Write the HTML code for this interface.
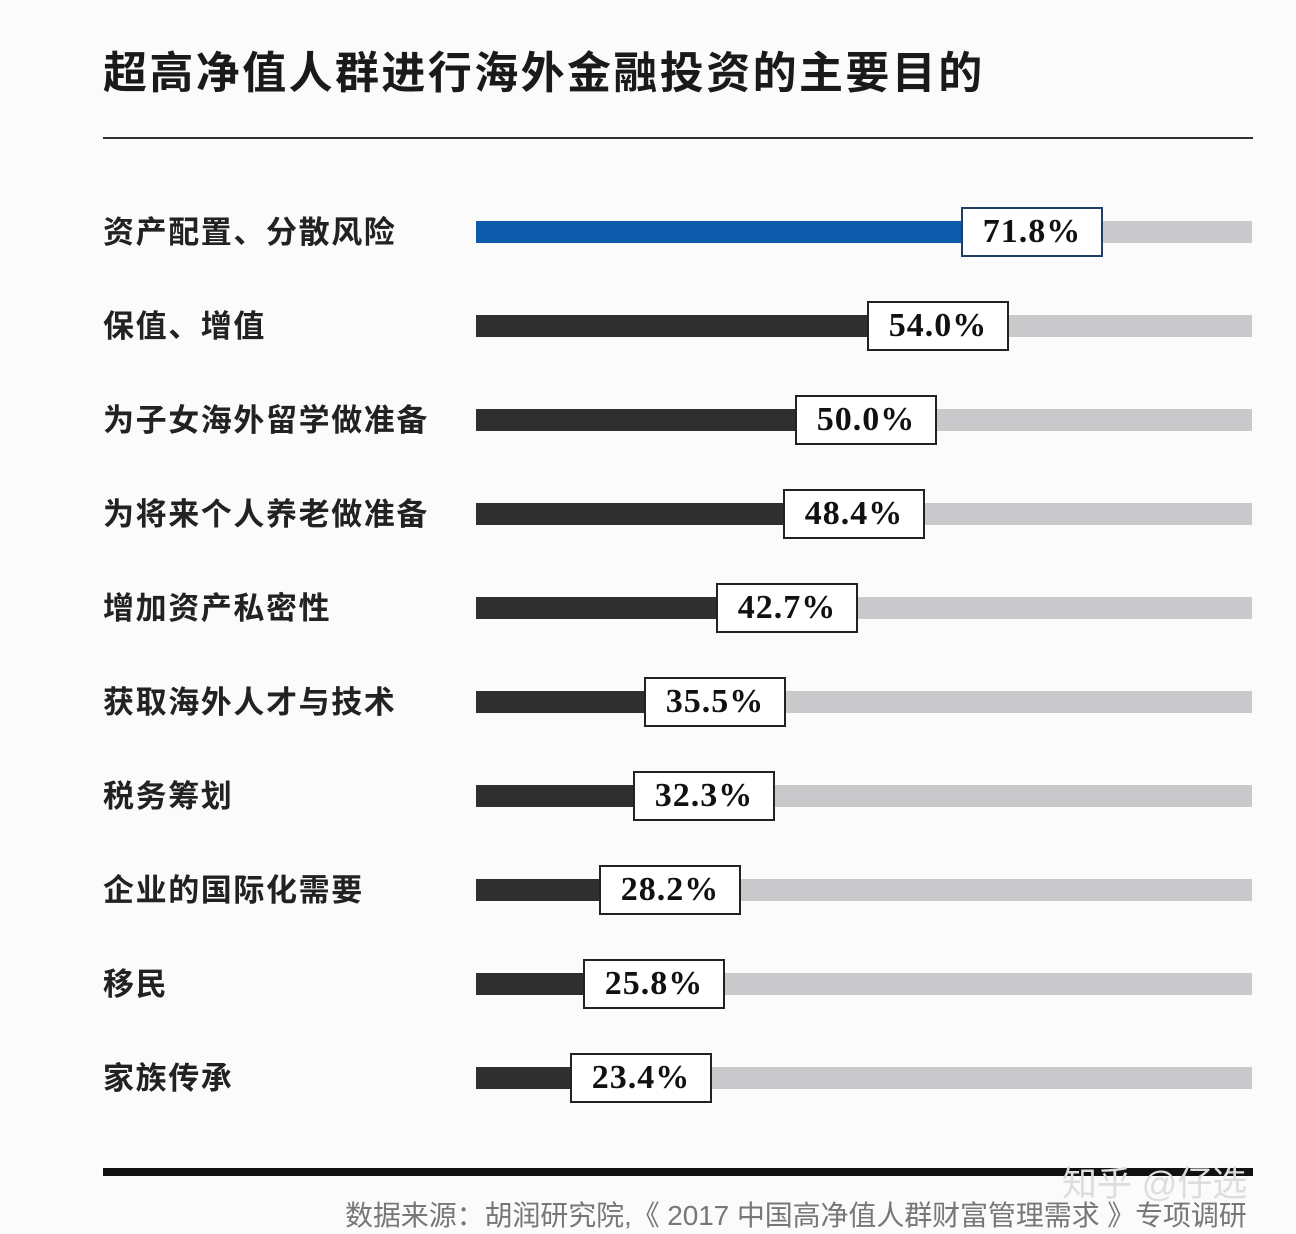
<!DOCTYPE html>
<html><head><meta charset="utf-8"><style>
body{margin:0;width:1296px;height:1232px;background:#fbfbfb;position:relative;overflow:hidden;font-family:"Liberation Sans","Noto Sans CJK SC",sans-serif}
.a{position:absolute}
.t{left:103px;top:46px;font-size:44px;font-weight:bold;color:#1a1a1a;letter-spacing:2.4px;white-space:nowrap;line-height:56px}
.lab{left:103px;font-size:31px;font-weight:bold;color:#222;white-space:nowrap;line-height:40px;letter-spacing:1.6px}
.trk{left:476px;width:776px;height:22px;background:#c9c9cb}
.fill{left:476px;height:22px;background:#2f2f2f}
.box{height:46px;width:138px;border:2.5px solid #222;background:#fff;font-family:"Liberation Serif",serif;font-weight:bold;font-size:34px;color:#111;text-align:center;line-height:46px;letter-spacing:1px}
</style></head><body>
<div class="a t">超高净值人群进行海外金融投资的主要目的</div>
<div class="a" style="left:103px;top:137px;width:1150px;height:2px;background:#333"></div>
<div id="rows"></div>
<div class="a" style="left:103px;top:1168px;width:1150px;height:8px;background:#111"></div>
<div class="a" style="left:345px;top:1194px;font-size:28px;color:#777;white-space:nowrap;letter-spacing:-0.1px">数据来源：胡润研究院,《 2017 中国高净值人群财富管理需求 》专项调研</div>
<div class="a" style="left:1062px;top:1156px;font-size:35px;color:#ddd;white-space:nowrap">知乎 @仔选</div>
<script>
var d=[["资产配置、分散风险","71.8%",961],["保值、增值","54.0%",867],["为子女海外留学做准备","50.0%",795],["为将来个人养老做准备","48.4%",783],["增加资产私密性","42.7%",716],["获取海外人才与技术","35.5%",644],["税务筹划","32.3%",633],["企业的国际化需要","28.2%",599],["移民","25.8%",583],["家族传承","23.4%",570]];
var h="";
d.forEach(function(r,i){var c=232+94*i;var blue=i==0;
h+='<div class="a lab" style="top:'+(c-19)+'px">'+r[0]+'</div>';
h+='<div class="a trk" style="top:'+(c-11)+'px"></div>';
h+='<div class="a fill" style="top:'+(c-11)+'px;width:'+(r[2]-476)+'px;background:'+(blue?'#0c5cab':'#2f2f2f')+'"></div>';
h+='<div class="a box" style="left:'+r[2]+'px;top:'+(c-25)+'px;border-color:'+(blue?'#1d3f63':'#222')+'">'+r[1]+'</div>';});
document.getElementById("rows").innerHTML=h;
</script>
</body></html>
